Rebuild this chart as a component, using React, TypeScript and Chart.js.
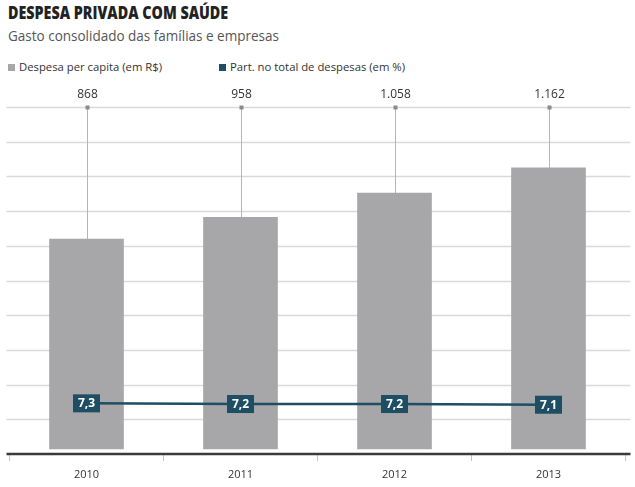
import React, { useEffect, useRef } from "react";
import { Chart, registerables } from "chart.js";

Chart.register(...registerables);

const categories = ["2010", "2011", "2012", "2013"];
const spending = [868, 958, 1058, 1162];
const spendingLabels = ["868", "958", "1.058", "1.162"];
const share = [7.3, 7.2, 7.2, 7.1];
const shareLabels = ["7,3", "7,2", "7,2", "7,1"];

const GRAY = "#a7a7a9";
const TEAL = "#1d4e63";
const FONT = "'Open Sans', 'Noto Sans', sans-serif";

const decorPlugin = {
  id: "decor",
  beforeDatasetsDraw(chart: any) {
    const { ctx, chartArea, scales } = chart;
    const y = scales.y;
    const left = chartArea.left - 3;
    const right = chartArea.right + 5;
    ctx.save();
    y.ticks.forEach((t: any, i: number) => {
      const py = Math.round(y.getPixelForValue(t.value)) + 0.5;
      if (i === 0) return;
      ctx.strokeStyle = "#d9d9d9";
      ctx.lineWidth = 1.5;
      ctx.beginPath();
      ctx.moveTo(left, py);
      ctx.lineTo(right, py);
      ctx.stroke();
    });
    const meta = chart.getDatasetMeta(0);
    meta.data.forEach((el: any, i: number) => {
      const x = Math.round(el.x) + 0.5;
      ctx.strokeStyle = "#b5b5b5";
      ctx.lineWidth = 1;
      ctx.beginPath();
      ctx.moveTo(x, chartArea.top);
      ctx.lineTo(x, el.y);
      ctx.stroke();
      ctx.fillStyle = "#8a8a8a";
      ctx.fillRect(x - 2, chartArea.top - 1.5, 4, 4);
      ctx.fillStyle = "#333";
      ctx.font = `12px ${FONT}`;
      ctx.textAlign = "center";
      ctx.textBaseline = "middle";
      ctx.fillText(spendingLabels[i], x, chartArea.top - 12);
    });
    ctx.restore();
  },
  afterDatasetsDraw(chart: any) {
    const { ctx, chartArea, scales } = chart;
    const y = scales.y;
    ctx.save();
    const by = y.getPixelForValue(y.min);
    ctx.strokeStyle = "#3a3a3a";
    ctx.lineWidth = 2.5;
    ctx.beginPath();
    ctx.moveTo(chartArea.left - 3, by);
    ctx.lineTo(chartArea.right + 5, by);
    ctx.stroke();
    const meta = chart.getDatasetMeta(1);
    meta.data.forEach((el: any, i: number) => {
      const w = 27;
      const h = 18;
      ctx.fillStyle = TEAL;
      ctx.fillRect(el.x - w / 2, el.y - h / 2, w, h);
      ctx.fillStyle = "#ffffff";
      ctx.font = `bold 12px ${FONT}`;
      ctx.textAlign = "center";
      ctx.textBaseline = "middle";
      ctx.fillText(shareLabels[i], el.x, el.y + 0.5);
    });
    ctx.restore();
  },
};

function ChartBox() {
  const ref = useRef<HTMLCanvasElement | null>(null);
  useEffect(() => {
    if (!ref.current) return;
    const chart = new Chart(ref.current, {
      type: "bar",
      data: {
        labels: categories,
        datasets: [
          {
            type: "bar",
            label: "Despesa per capita (em R$)",
            data: spending,
            backgroundColor: GRAY,
            barThickness: 74,
            yAxisID: "y",
            order: 2,
          },
          {
            type: "line",
            label: "Part. no total de despesas (em %)",
            data: share,
            borderColor: TEAL,
            borderWidth: 2.5,
            pointRadius: 0,
            tension: 0,
            yAxisID: "y2",
            order: 1,
          } as any,
        ],
      },
      options: {
        animation: false,
        responsive: true,
        maintainAspectRatio: false,
        layout: { padding: { left: 9.5, right: 9.5, top: 27, bottom: 0 } },
        plugins: {
          legend: { display: false },
          tooltip: { enabled: false },
          title: { display: false },
        },
        scales: {
          x: {
            grid: {
              display: true,
              drawOnChartArea: false,
              drawTicks: true,
              tickLength: 7,
              tickColor: "#c4c4c4",
              lineWidth: 1,
            },
            border: { display: false },
            ticks: {
              color: "#333",
              font: { family: FONT, size: 11 },
              padding: 7,
            },
            afterFit: (s: any) => {
              s.height = 33;
            },
          },
          y: {
            min: -21,
            max: 1414,
            ticks: { display: false, stepSize: 143.5 },
            grid: { display: false },
            border: { display: false },
            afterFit: (s: any) => {
              s.width = 0;
            },
          },
          y2: {
            display: false,
            min: 0,
            max: 50,
          },
        },
      },
      plugins: [decorPlugin],
    });
    return () => chart.destroy();
  }, []);
  return <canvas ref={ref} />;
}

export default function App() {
  return (
    <div
      style={{
        position: "absolute",
        left: 0,
        top: 0,
        width: 635,
        height: 487,
        background: "#fff",
        fontFamily: FONT,
        overflow: "hidden",
      }}
    >
      <div
        style={{
          position: "absolute",
          left: 8,
          top: 1,
          fontSize: 17,
          fontWeight: 800,
          color: "#222",
          whiteSpace: "nowrap",
          transform: "scaleX(0.84)",
          transformOrigin: "left center",
          lineHeight: "24px",
        }}
      >
        DESPESA PRIVADA COM SAÚDE
      </div>
      <div
        style={{
          position: "absolute",
          left: 8,
          top: 25,
          fontSize: 15,
          color: "#555",
          whiteSpace: "nowrap",
          lineHeight: "20px",
          transform: "scaleX(0.9)",
          transformOrigin: "left center",
        }}
      >
        Gasto consolidado das famílias e empresas
      </div>
      <div
        style={{
          position: "absolute",
          left: 8,
          top: 58,
          fontSize: 11.3,
          color: "#333",
          whiteSpace: "nowrap",
          lineHeight: "18px",
          display: "flex",
          alignItems: "center",
        }}
      >
        <span style={{ display: "inline-block", width: 7, height: 7, background: GRAY, marginRight: 4 }} />
        <span>Despesa per capita (em R$)</span>
      </div>
      <div
        style={{
          position: "absolute",
          left: 219,
          top: 58,
          fontSize: 11.3,
          color: "#333",
          whiteSpace: "nowrap",
          lineHeight: "18px",
          display: "flex",
          alignItems: "center",
        }}
      >
        <span style={{ display: "inline-block", width: 7, height: 7, background: TEAL, marginRight: 4 }} />
        <span>Part. no total de despesas (em %)</span>
      </div>
      <div style={{ position: "absolute", left: 0, top: 80, width: 635, height: 407 }}>
        <ChartBox />
      </div>
    </div>
  );
}
